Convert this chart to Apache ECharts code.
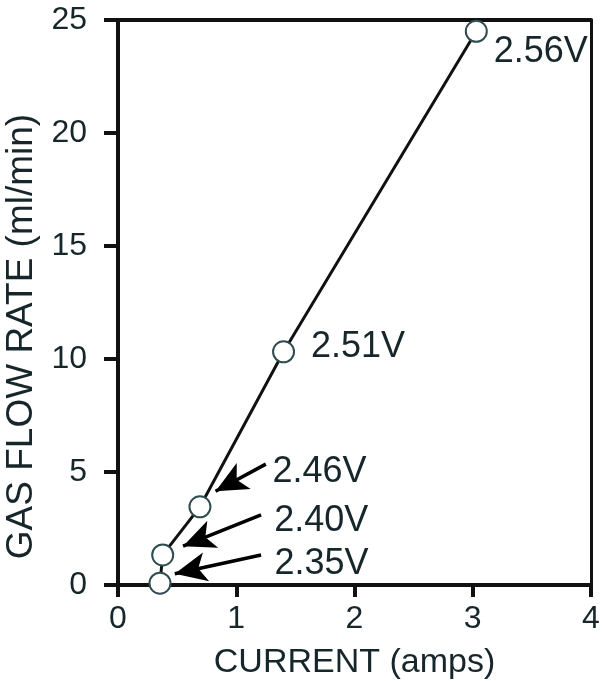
<!DOCTYPE html>
<html>
<head>
<meta charset="utf-8">
<script src="https://cdn.jsdelivr.net/npm/echarts@6/dist/echarts.min.js"></script>
<style>
html,body{margin:0;padding:0;background:#fff;}
#chart{width:602px;height:681px;}
</style>
</head>
<body>
<div id="chart"></div>
<script>
// ---- data ----
const current = [0.355, 0.378, 0.693, 1.40, 3.03];       // amps
const flowRate = [0.08, 1.33, 3.46, 10.32, 24.5];        // ml/min
const voltageLabels = ['2.35V', '2.40V', '2.46V', '2.51V', '2.56V'];
const xTicks = [0, 1, 2, 3, 4];
const yTicks = [0, 5, 10, 15, 20, 25];
// arrow annotations (data coordinates): tail -> head
const arrowFrom = [[1.21, 1.33], [1.21, 3.10], [1.25, 5.35]];
const arrowTo = [[0.480, 0.50], [0.550, 1.72], [0.825, 4.15]];

// ---- styles ----
const FONT = '"Liberation Sans", Arial, Helvetica, sans-serif';
const TEXT = '#17262a';
const labelOffsets = [[103, -19], [100, -34], [61, -35], [16, -5], [6, 21]];

const chart = echarts.init(document.getElementById('chart'), null, {renderer: 'canvas'});

const pointData = current.map((x, i) => ({
  value: [x, flowRate[i]],
  label: {
    show: true,
    formatter: voltageLabels[i],
    position: 'right',
    distance: 0,
    offset: labelOffsets[i],
    align: 'left',
    verticalAlign: 'middle',
    fontSize: 36,
    fontFamily: FONT,
    color: TEXT
  }
}));

const arrowData = arrowFrom.map((p, i) => [{coord: p}, {coord: arrowTo[i]}]);

const axisLineStyle = {color: '#111', width: 4};

const option = {
  backgroundColor: '#fff',
  animation: false,
  grid: {left: 118, top: 20, right: 11, bottom: 96, containLabel: false, outerBoundsMode: 'none'},
  xAxis: [{
    type: 'value', min: xTicks[0], max: xTicks[xTicks.length - 1], interval: 1,
    position: 'bottom',
    name: 'CURRENT (amps)', nameLocation: 'middle', nameGap: 78,
    nameTextStyle: {fontSize: 34, fontFamily: FONT, color: TEXT, verticalAlign: 'middle'},
    axisLine: {onZero: false, lineStyle: axisLineStyle},
    axisTick: {show: true, inside: false, length: 12, lineStyle: {color: '#111', width: 4}},
    axisLabel: {fontSize: 32, fontFamily: FONT, color: TEXT, margin: 18},
    splitLine: {show: false}
  }, {
    type: 'value', min: xTicks[0], max: xTicks[xTicks.length - 1], interval: 1,
    position: 'top',
    axisLine: {onZero: false, lineStyle: axisLineStyle},
    axisTick: {show: false}, axisLabel: {show: false}, splitLine: {show: false}
  }],
  yAxis: [{
    type: 'value', min: yTicks[0], max: yTicks[yTicks.length - 1], interval: 5,
    position: 'left',
    name: 'GAS FLOW RATE (ml/min)', nameLocation: 'middle', nameGap: 87,
    nameTextStyle: {fontSize: 37, fontFamily: FONT, color: TEXT, verticalAlign: 'middle', padding: [0, 68, 0, 0]},
    axisLine: {onZero: false, lineStyle: axisLineStyle},
    axisTick: {show: true, inside: false, length: 14, lineStyle: {color: '#111', width: 4}},
    axisLabel: {fontSize: 32, fontFamily: FONT, color: TEXT, margin: 31},
    splitLine: {show: false}
  }, {
    type: 'value', min: yTicks[0], max: yTicks[yTicks.length - 1], interval: 5,
    position: 'right',
    axisLine: {onZero: false, lineStyle: {color: '#111', width: 3}},
    axisTick: {show: false}, axisLabel: {show: false}, splitLine: {show: false}
  }],
  series: [{
    type: 'line',
    xAxisIndex: 0, yAxisIndex: 0,
    data: pointData,
    symbol: 'circle',
    symbolSize: 21,
    showAllSymbol: true,
    lineStyle: {color: '#111', width: 3},
    itemStyle: {color: '#fff', borderColor: '#2f4c50', borderWidth: 2},
    z: 5
  }, {
    type: 'line',
    xAxisIndex: 0, yAxisIndex: 0,
    data: [],
    markLine: {
      silent: true,
      symbol: ['none', 'arrow'],
      symbolSize: [22, 32],
      label: {show: false},
      lineStyle: {color: '#000', width: 3.5, type: 'solid'},
      data: arrowData
    },
    z: 4
  }]
};
chart.setOption(option);
</script>
</body>
</html>
